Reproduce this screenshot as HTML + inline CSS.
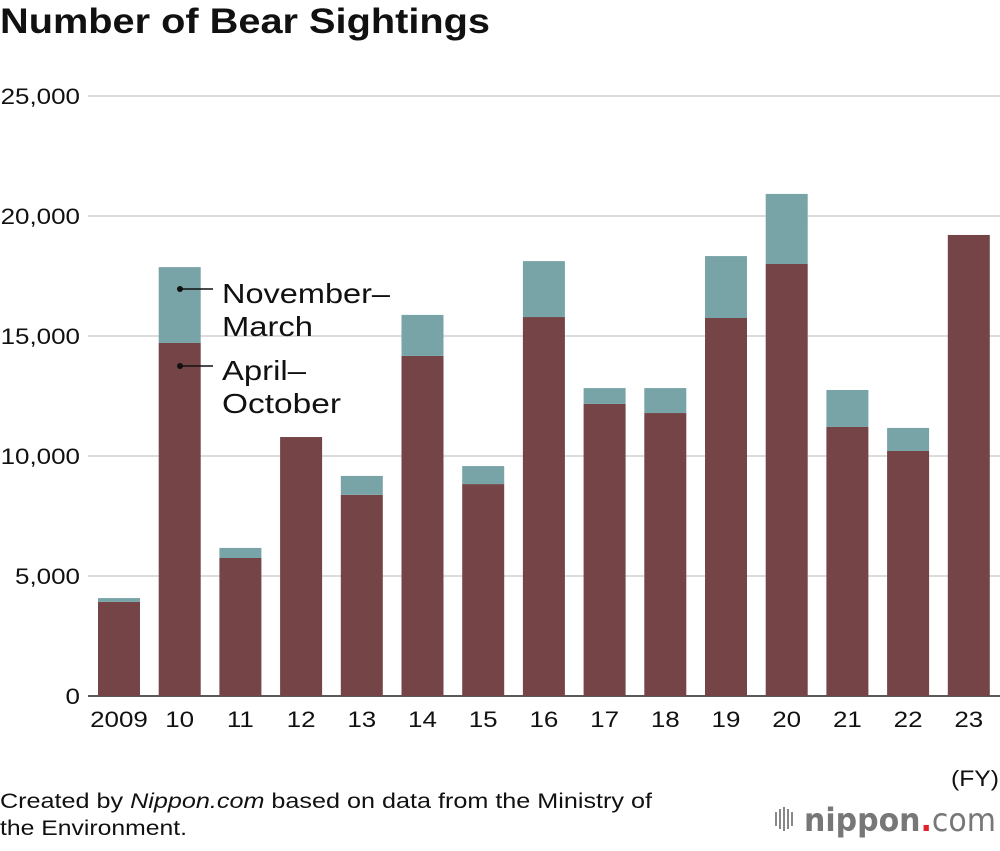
<!DOCTYPE html>
<html><head><meta charset="utf-8">
<style>
body{margin:0;background:#fff;width:1000px;height:846px;overflow:hidden;font-family:"Liberation Sans",sans-serif;}
</style></head>
<body>
<svg id="chart" width="1000" height="846" xmlns="http://www.w3.org/2000/svg">
<text x="0" y="33" font-size="35" font-weight="bold" fill="#111" textLength="490" lengthAdjust="spacingAndGlyphs">Number of Bear Sightings</text>
<g id="grid"></g>
<g id="bars"></g>
<g id="xlabels"></g>
<g>
<circle cx="180" cy="289" r="3" fill="#111"/>
<line x1="180" y1="289" x2="213" y2="289" stroke="#111" stroke-width="1.5"/>
<text x="222" y="303" font-size="28" fill="#111" textLength="168" lengthAdjust="spacingAndGlyphs">November–</text>
<text x="222" y="336" font-size="28" fill="#111" textLength="91" lengthAdjust="spacingAndGlyphs">March</text>
<circle cx="180" cy="366" r="3" fill="#111"/>
<line x1="180" y1="366" x2="213" y2="366" stroke="#111" stroke-width="1.5"/>
<text x="222" y="380" font-size="28" fill="#111" textLength="84" lengthAdjust="spacingAndGlyphs">April–</text>
<text x="222" y="413" font-size="28" fill="#111" textLength="119" lengthAdjust="spacingAndGlyphs">October</text>
</g>
<text x="999" y="786" font-size="22" text-anchor="end" fill="#111" textLength="48" lengthAdjust="spacingAndGlyphs">(FY)</text>
<text x="0" y="808" font-size="21" fill="#111" textLength="652" lengthAdjust="spacingAndGlyphs">Created by <tspan font-style="italic">Nippon.com</tspan> based on data from the Ministry of</text>
<text x="0" y="835" font-size="21" fill="#111" textLength="187" lengthAdjust="spacingAndGlyphs">the Environment.</text>
<g fill="#888">
<rect x="775" y="812" width="2" height="14"/><rect x="779" y="809" width="2" height="20"/><rect x="783" y="807" width="2" height="24"/><rect x="787" y="809" width="2" height="20"/><rect x="791" y="812" width="2" height="14"/>
<text x="804" y="831" font-size="32" font-family="DejaVu Sans, sans-serif" fill="#777" textLength="192" lengthAdjust="spacingAndGlyphs"><tspan font-weight="bold">nippon</tspan><tspan fill="#e0222a" font-weight="bold">.</tspan><tspan>com</tspan></text>
</g>
</svg>
<script>
const years = ["2009","10","11","12","13","14","15","16","17","18","19","20","21","22","23"];
const aprOct = [3920,14710,5750,10790,8380,14170,8830,15790,12170,11790,15750,18000,11210,10210,19210];
const novMar = [160,3160,420,0,790,1710,750,2330,660,1040,2580,2920,1540,960,0];
const yTicks = [0,5000,10000,15000,20000,25000];
const yTickLabels = ["0","5,000","10,000","15,000","20,000","25,000"];
const NS="http://www.w3.org/2000/svg";
const y0=696, yScale=600/25000;
const yPos=v=>y0-v*yScale;
const xPos=i=>98+i*60.7;
const bw=42;
const grid=document.getElementById('grid'), bars=document.getElementById('bars'), xl=document.getElementById('xlabels');
function mk(t,a,p){const e=document.createElementNS(NS,t);for(const k in a)e.setAttribute(k,a[k]);p.appendChild(e);return e;}
function widen(t,f){const w=t.getComputedTextLength();t.setAttribute('textLength',w*f);t.setAttribute('lengthAdjust','spacingAndGlyphs');}
yTicks.forEach((v,i)=>{
  const l=mk('line',{x1:88,x2:1000,y1:yPos(v),y2:yPos(v),stroke:v===0?'#222':'#c8c8c8','stroke-width':v===0?1.5:1.2},grid);
  
  
  const t=mk('text',{x:80,y:yPos(v)+8,'font-size':22,'text-anchor':'end',fill:'#111'},grid);
  t.textContent=yTickLabels[i];
  
  
  widen(t,1.18);
});
years.forEach((yr,i)=>{
  const x=xPos(i);
  const a=mk('rect',{x:x,y:yPos(aprOct[i]),width:bw,height:aprOct[i]*yScale,fill:'#744446'},bars);
  
  
  if(novMar[i]>0){
    const b=mk('rect',{x:x,y:yPos(aprOct[i]+novMar[i]),width:bw,height:novMar[i]*yScale,fill:'#78a3a7'},bars);
    
    
  }
  const t=mk('text',{x:x+bw/2,y:727,'font-size':22,'text-anchor':'middle',fill:'#111'},xl);
  t.textContent=yr;
  
  
  widen(t,1.18);
});
</script>
</body></html>
